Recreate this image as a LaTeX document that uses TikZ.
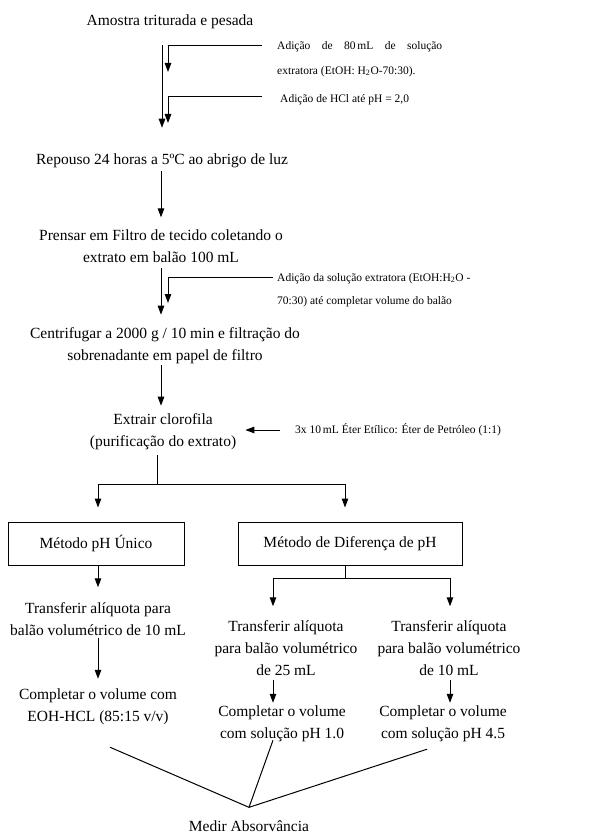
\documentclass[tikz,border=0pt]{standalone}
\usepackage{fontspec}
\setmainfont{Liberation Serif}
\usetikzlibrary{arrows.meta, calc}

\begin{document}
\begin{tikzpicture}[x=1pt, y=-1pt,
  passo/.style={inner sep=0pt, align=center, font=\fontsize{15.5}{22}\selectfont},
  nota/.style={inner sep=0pt, align=left, anchor=west, font=\fontsize{11.5}{25}\selectfont},
  caixa/.style={draw, line width=1pt, minimum height=43pt, inner sep=0pt, font=\fontsize{15.5}{22}\selectfont},
  seta/.style={line width=1pt, -{Triangle[length=9pt,width=6.5pt]}},
  linha/.style={line width=1pt}]
\useasboundingbox (0,0) rectangle (615,834);

% Main steps
\node[passo] (amostra) at (170,22) {Amostra triturada e pesada};
\node[passo] (repouso) at (162,161) {Repouso 24 horas a 5ºC ao abrigo de luz};
\node[passo] (prensar) at (161,246) {Prensar em Filtro de tecido coletando o\\extrato em balão 100 mL};
\node[passo] (centrif) at (165,346) {Centrifugar a 2000 g / 10 min e filtração do\\sobrenadante em papel de filtro};
\node[passo] (extrair) at (163,432) {Extrair clorofila\\(purificação do extrato)};

% Methods
\node[caixa, minimum width=176pt] (unico) at (96,543.5) {Método pH Único};
\node[caixa, minimum width=224pt] (difer) at (350,543.5) {Método de Diferença de pH};
\node[passo] (transf1) at (98,619) {Transferir alíquota para\\balão volumétrico de 10 mL};
\node[passo] (compl1) at (98,707) {Completar o volume com\\EOH-HCL (85:15 v/v)};
\node[passo] (transf2) at (286,648) {Transferir alíquota\\para balão volumétrico\\de 25 mL};
\node[passo] (compl2) at (282,724) {Completar o volume\\com solução pH 1.0};
\node[passo] (transf3) at (449,648) {Transferir alíquota\\para balão volumétrico\\de 10 mL};
\node[passo] (compl3) at (443,724) {Completar o volume\\com solução pH 4.5};
\node[passo] (medir) at (249,826) {Medir Absorvância};

% Side notes
\node[nota, anchor=north west] (nota1) at (277,41) {\makebox[165pt][s]{Adição de 80\,mL de solução}\\extratora (EtOH: H\textsubscript{2}O-70:30).};
\node[nota] (nota2) at (280,100) {Adição de HCl até pH = 2,0};
\node[nota, anchor=north west, font=\fontsize{11.5}{23}\selectfont] (nota3) at (277,273) {Adição da solução extratora (EtOH:H\textsubscript{2}O -\\70:30) até completar volume do balão};
\node[nota] (nota4) at (295,430) {3x 10\,mL Éter Etílico: Éter de Petróleo (1:1)};

% Connectors
\draw[seta, shorten <=16pt, shorten >=26pt] (repouso.north |- amostra.south) -- (repouso.north);
\coordinate (e1) at (168,72);
\draw[seta] ([shift={(-15,5)}]nota1.north west) -| (e1);
\coordinate (e2) at (168,123);
\draw[seta] ([shift={(-18,-3)}]nota2.west) -| (e2);
\draw[seta, shorten <=3pt, shorten >=12pt] (prensar.north |- repouso.south) -- (prensar.north);
\draw[seta, shorten <=5pt, shorten >=13pt] (prensar.south) -- (prensar.south |- centrif.north);
\coordinate (e3) at (168,303);
\draw[seta] ([shift={(-4,4)}]nota3.north west) -| (e3);
\draw[seta, shorten <=1pt, shorten >=8pt] (prensar.south |- centrif.south) -- (prensar.south |- extrair.north);
\draw[seta, shorten <=15pt, shorten >=9pt] (nota4.west) -- (nota4.west -| extrair.east);

\coordinate (s1) at (157,484);
\draw[linha, shorten <=5pt] (s1 |- extrair.south) -- (s1);
\draw[seta, shorten >=14pt] (s1) -| ([xshift=2pt]unico.north);
\draw[seta, shorten >=14pt] (s1) -| ([xshift=-5pt]difer.north);

\draw[seta, shorten >=15pt] (transf1.north |- unico.south) -- (transf1.north);
\draw[seta, shorten <=2pt, shorten >=10pt] (transf1.south) -- (compl1.north);
\coordinate (s2) at (345,578);
\draw[linha] (s2 |- difer.south) -- (s2);
\draw[seta, shorten >=14pt] (s2) -| ([xshift=-13pt]transf2.north);
\draw[seta, shorten >=14pt] (s2) -| ([xshift=1pt]transf3.north);
\draw[seta, shorten <=4pt, shorten >=3pt] ([xshift=-13pt]transf2.south) -- ([xshift=-13pt]transf2.south |- compl2.north);
\draw[seta, shorten <=4pt, shorten >=3pt] ([xshift=1pt]transf3.south) -- ([xshift=1pt]transf3.south |- compl3.north);

% Converging lines
\coordinate (m) at ([yshift=13pt]medir.north);
\draw[linha] ([shift={(12,22)}]compl1.south) -- (m);
\draw[linha] ([shift={(-9,-2)}]compl2.south) -- (m);
\draw[linha] ([shift={(-16,7)}]compl3.south) -- (m);
\end{tikzpicture}
\end{document}
